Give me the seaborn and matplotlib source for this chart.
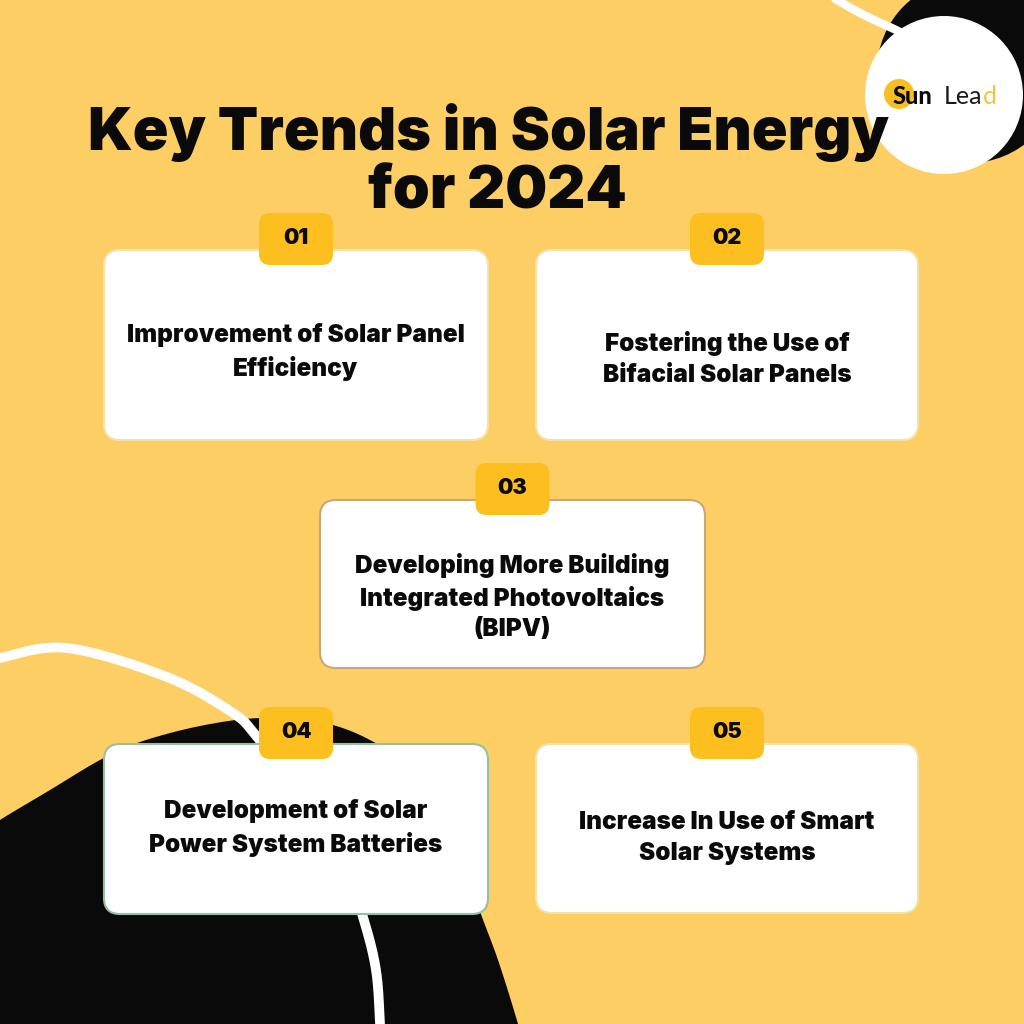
"""
Key Trends in Solar Energy for 2024 - infographic recreation
Output: out.png
"""

import numpy as np
import matplotlib
matplotlib.use("Agg")
import matplotlib.pyplot as plt
from matplotlib.patches import FancyBboxPatch, Circle
import seaborn as sns

# ── Content ───────────────────────────────────────────────────
TITLE_LINES = ["Key Trends in Solar Energy", "for 2024"]
BADGES = ["01", "02", "03", "04", "05"]
TRENDS = [
    "Improvement of Solar Panel\nEfficiency",
    "Fostering the Use of\nBifacial Solar Panels",
    "Developing More Building\nIntegrated Photovoltaics\n(BIPV)",
    "Development of Solar\nPower System Batteries",
    "Increase In Use of Smart\nSolar Systems",
]
BRAND = ["Sun", "Lea", "d"]

# ── Layout (pixel space, y down) ─────────────────────────────
CARD_BOXES = [  # x0, y0, x1, y1
    (104, 250, 488, 440),
    (536, 250, 918, 440),
    (320, 500, 705, 668),
    (104, 744, 488, 914),
    (536, 744, 918, 913),
]
TEXT_Y = [352, 359, 597, 828, 838]
CARD_EDGE = ["#F4E2AE", "#F4E2AE", "#C9A77A", "#93C1A2", "#F4E2AE"]

BG = "#FDCE63"
BADGE = "#FCBF1F"
INK = "#0A0A0A"
HEAVY = ["Inter", "Roboto", "DejaVu Sans"]

sns.set_theme(style="white")
plt.rcParams["font.family"] = HEAVY


def smooth(pts, n=30):
    """Catmull-Rom curve through the given points."""
    p = np.asarray(pts, dtype=float)
    p = np.vstack([p[0], p, p[-1]])
    out = []
    t = np.linspace(0, 1, n, endpoint=False)[:, None]
    for i in range(1, len(p) - 2):
        p0, p1, p2, p3 = p[i - 1], p[i], p[i + 1], p[i + 2]
        out.append(0.5 * ((2 * p1) + (-p0 + p2) * t
                          + (2 * p0 - 5 * p1 + 4 * p2 - p3) * t ** 2
                          + (-p0 + 3 * p1 - 3 * p2 + p3) * t ** 3))
    out.append(p[-2][None, :])
    return np.vstack(out)


fig = plt.figure(figsize=(10.24, 10.24), dpi=100)
fig.patch.set_facecolor(BG)
ax = fig.add_axes([0, 0, 1, 1])
ax.set_xlim(0, 1024)
ax.set_ylim(1024, 0)
ax.set_facecolor(BG)
ax.axis("off")

# ── Background decoration ────────────────────────────────────
blob = smooth([(-20, 835), (0, 820), (50, 790), (100, 760), (140, 742),
               (200, 726), (260, 718), (320, 722), (370, 740), (420, 775),
               (455, 830), (476, 900), (498, 960), (518, 1024), (524, 1050)])
blob = np.vstack([blob, [(-20, 1050)]])
ax.fill(blob[:, 0], blob[:, 1], color=INK, zorder=1, lw=0)

arc_bl = smooth([(-20, 664), (0, 658), (67, 648), (167, 677), (233, 713),
                 (257, 737), (300, 790), (340, 850), (363, 917),
                 (376, 970), (380, 1024), (381, 1050)])
ax.plot(arc_bl[:, 0], arc_bl[:, 1], color="white", lw=7, zorder=2,
        solid_capstyle="butt")

ax.add_patch(Circle((969, 71), 92, color=INK, zorder=1, lw=0))
arc_tr = smooth([(822, -10), (837, 0), (866, 16), (900, 32), (915, 42)])
ax.plot(arc_tr[:, 0], arc_tr[:, 1], color="white", lw=6, zorder=2)

# logo disc
ax.add_patch(Circle((944, 95), 79, color="white", zorder=3, lw=0))
ax.add_patch(Circle((899, 94), 15, color="#F9BE22", zorder=4, lw=0))
ax.text(893, 96, BRAND[0], fontsize=17, fontweight="black", color=INK,
        family=["Lato", "DejaVu Sans"], ha="left", va="center", zorder=5)
ax.text(944, 96, BRAND[1], fontsize=18, fontweight="normal", color="#1A1A1A",
        family=["Lato", "DejaVu Sans"], ha="left", va="center", zorder=5)
ax.text(983, 96, BRAND[2], fontsize=18, fontweight="normal", color="#F2C443",
        family=["Lato", "DejaVu Sans"], ha="left", va="center", zorder=5)

# ── Title ────────────────────────────────────────────────────
ax.text(488, 133, TITLE_LINES[0], fontsize=42.5, fontweight=900,
        color=INK, ha="center", va="center", zorder=6)
ax.text(497, 193, TITLE_LINES[1], fontsize=42.5, fontweight=900,
        color=INK, ha="center", va="center", zorder=6)

# ── Cards ────────────────────────────────────────────────────
for (x0, y0, x1, y1), ty, edge, badge, label in zip(
        CARD_BOXES, TEXT_Y, CARD_EDGE, BADGES, TRENDS):
    ax.add_patch(FancyBboxPatch((x0, y0), x1 - x0, y1 - y0,
                                boxstyle="round,pad=0,rounding_size=16",
                                fc="white", ec=edge, lw=1.5, zorder=7))
    cx = (x0 + x1) / 2
    ax.add_patch(FancyBboxPatch((cx - 37, y0 - 37), 74, 52,
                                boxstyle="round,pad=0,rounding_size=11",
                                fc=BADGE, ec="none", zorder=8))
    ax.text(cx, y0 - 12, badge, fontsize=15.5, fontweight=900, color=INK,
            ha="center", va="center", zorder=9)
    ax.text(cx, ty, label, fontsize=17.5, fontweight=900, color=INK,
            ha="center", va="center", linespacing=1.42, zorder=9)

fig.savefig("out.png", dpi=100, facecolor=BG)
plt.close(fig)
